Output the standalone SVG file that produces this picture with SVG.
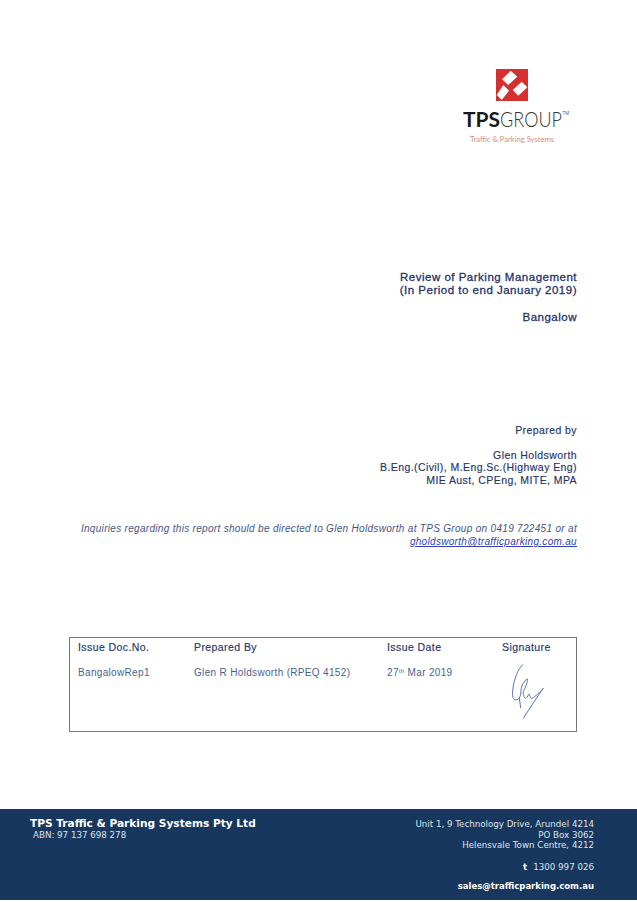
<svg xmlns="http://www.w3.org/2000/svg" width="637" height="902" viewBox="0 0 637 902">
<style>
text{font-family:"Liberation Sans",Arial,sans-serif;fill:#1f3468}
.r{text-anchor:end}
.h{font-size:11.5px;letter-spacing:.5px;stroke:#1f3468;stroke-width:.3px}
.b{font-size:10.5px;letter-spacing:.42px;stroke:#1f3468;stroke-width:.15px}
.t{font-size:10px;letter-spacing:.33px;fill:#4a5f8f}
.i{font-size:10px;letter-spacing:.31px;font-style:italic}
.f{font-family:"DejaVu Sans",Verdana,sans-serif;fill:#dfe5ec;font-size:8.7px}
.fb{font-family:"DejaVu Sans",Verdana,sans-serif;fill:#fff;font-weight:700}
</style>
<rect width="637" height="902" fill="#fff"/>
<g id="logo">
<rect x="496" y="69" width="32" height="32" fill="#d5302f"/>
<path d="M510.700 70.700 517.300 76.700 508.300 85 502 79.300Z M503.300 85 509 90.700 501.700 100 496.700 95Z M521.700 81.700 527.300 87.300 518.300 95.700 512.700 90Z" fill="#fff"/>
<text x="463" y="127" font-size="21.500" font-weight="700" textLength="37" lengthAdjust="spacingAndGlyphs" style="font-family:Lato,sans-serif;fill:#1a1a1a">TPS</text>
<text transform="translate(500 127) scale(.84 1)" font-size="21.500" font-weight="300" style="font-family:Lato,sans-serif;fill:#333">GROUP</text>
<text x="562.500" y="115" font-size="4.500" style="fill:#555">TM</text>
<text x="470" y="142" font-size="8" textLength="84" lengthAdjust="spacingAndGlyphs" style="font-family:Lato,sans-serif;fill:#d98a7e">Traffic &amp; Parking Systems</text>
</g>
<g id="title">
<text class="r h" x="577" y="281">Review of Parking Management</text>
<text class="r h" x="577" y="294">(In Period to end January 2019)</text>
<text class="r h" x="577" y="321">Bangalow</text>
</g>
<g id="author">
<text class="r b" x="577" y="434">Prepared by</text>
<text class="r b" x="577" y="459">Glen Holdsworth</text>
<text class="r b" x="577" y="471">B.Eng.(Civil), M.Eng.Sc.(Highway Eng)</text>
<text class="r b" x="577" y="484">MIE Aust, CPEng, MITE, MPA</text>
</g>
<g id="inquiries">
<text class="r i" x="577" y="532" style="fill:#45557f">Inquiries regarding this report should be directed to Glen Holdsworth at TPS Group on 0419 722451 or at</text>
<text class="r i" x="577" y="545" text-decoration="underline" style="fill:#2f3fb0">gholdsworth@trafficparking.com.au</text>
</g>
<g id="issue-table">
<rect x="69.500" y="637.500" width="507" height="94" fill="#fff" stroke="#777" stroke-width="1"/>
<text class="b" x="78" y="651">Issue Doc.No.</text>
<text class="b" x="194" y="651">Prepared By</text>
<text class="b" x="387" y="651">Issue Date</text>
<text class="b" x="502" y="651">Signature</text>
<text class="t" x="78" y="676">BangalowRep1</text>
<text class="t" x="194" y="676">Glen R Holdsworth (RPEQ 4152)</text>
<text class="t" x="387" y="676">27<tspan font-size="6" dy="-3">th</tspan><tspan dy="3"> Mar 2019</tspan></text>
<path d="M523.300 664.300C518 668 514 680 513 688 512 694 512.500 699 515 700 518 700 520 698 520.700 694.300 521 688 522 685 523.300 683.300 525 681 527 678 527.300 679 528 682 525 688 523.300 691.700 523 696 525 699 526 698.300 528 697 528 694 529.300 694.300 530 697 531 699 532 698.300 535 697 540 692 543.300 688.300 537 697 530 708 523.300 718.300M519.300 698 520.700 708" fill="none" stroke="#5a72b0" stroke-width="1"/>
</g>
<g id="footer">
<rect x="0" y="809" width="637" height="91" fill="#17375e"/>
<text class="fb" x="30" y="827" font-size="10.600">TPS Traffic &amp; Parking Systems Pty Ltd</text>
<text class="f" x="33" y="838">ABN: 97 137 698 278</text>
<text class="f r" x="594" y="827">Unit 1, 9 Technology Drive, Arundel 4214</text>
<text class="f r" x="594" y="838">PO Box 3062</text>
<text class="f r" x="594" y="848">Helensvale Town Centre, 4212</text>
<text class="fb" x="523" y="870" font-size="8.700">t</text>
<text class="f r" x="594" y="870">1300 997 026</text>
<text class="fb r" x="594" y="889" font-size="8.500">sales@trafficparking.com.au</text>
</g>
</svg>
